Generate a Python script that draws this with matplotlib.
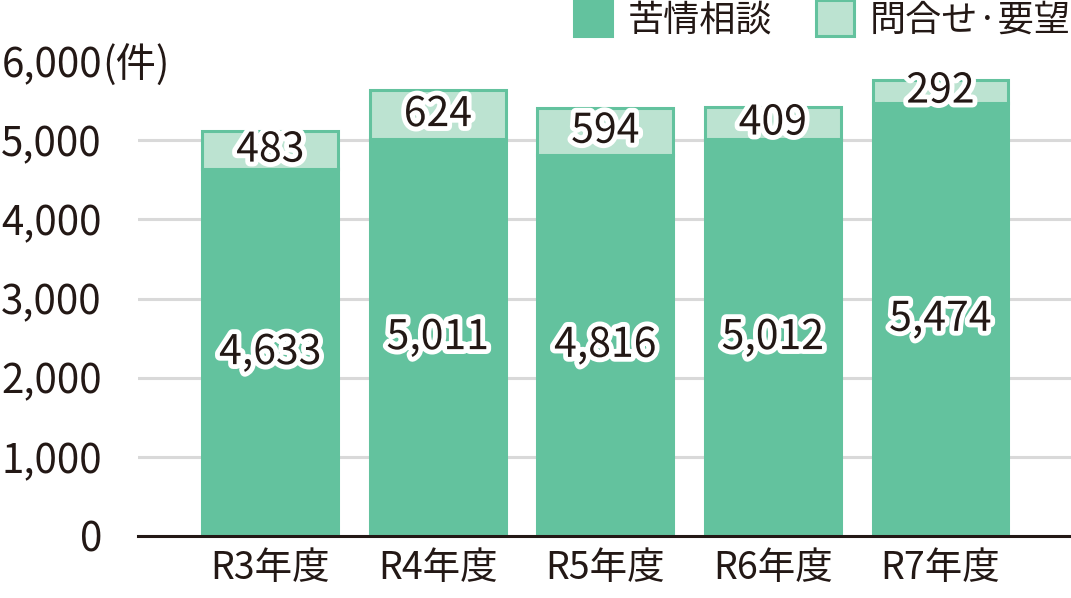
import matplotlib.pyplot as plt
import matplotlib.patheffects as pe
from matplotlib.patches import Patch
import numpy as np

plt.rcParams['font.family'] = ['Noto Sans CJK JP', 'DejaVu Sans']

years = ["R3年度", "R4年度", "R5年度", "R6年度", "R7年度"]
complaints = [4633, 5011, 4816, 5012, 5474]   # 苦情相談
inquiries = [483, 624, 594, 409, 292]         # 問合せ・要望
yticks = [0, 1000, 2000, 3000, 4000, 5000, 6000]

dark = '#63c29e'
light = '#bce3d1'
ink = '#231815'

fig = plt.figure(figsize=(10.71, 5.98), dpi=100)
ax = fig.add_axes([138 / 1071, 62 / 598, 933 / 1071, 475 / 598])

x = np.arange(len(years))
ax.bar(x, complaints, width=0.81, color=dark, edgecolor=dark, linewidth=2.2, zorder=3)
ax.bar(x, inquiries, bottom=complaints, width=0.81, color=light, edgecolor=dark,
       linewidth=2.2, zorder=3)

outline = [pe.withStroke(linewidth=7, foreground='white')]
for i in range(len(years)):
    ax.text(x[i], complaints[i] / 2, f"{complaints[i]:,}", ha='center', va='center',
            fontsize=29.5, color=ink, path_effects=outline, zorder=5)
    ax.text(x[i], complaints[i] + inquiries[i] / 2, f"{inquiries[i]:,}", ha='center',
            va='center', fontsize=29.5, color=ink, path_effects=outline, zorder=5)

ax.set_xlim(-0.79, 4.78)
ax.set_ylim(0, 6000)
ax.set_yticks(yticks)
ax.set_yticklabels([f"{v:,}" for v in yticks])
ax.set_xticks(x)
ax.set_xticklabels(years)
ax.tick_params(axis='y', length=0, pad=26, labelsize=29, labelcolor=ink)
ax.tick_params(axis='x', length=0, pad=9, labelsize=27, labelcolor=ink)

for v in yticks[1:-1]:
    ax.axhline(v, color='#d9d9d9', linewidth=2.2, zorder=1)
for s in ['top', 'right', 'left']:
    ax.spines[s].set_visible(False)
ax.spines['bottom'].set_color(ink)
ax.spines['bottom'].set_linewidth(2.2)
ax.spines['bottom'].set_zorder(4)

ax.text(-36 / 933, 6000, "(件)", transform=ax.get_yaxis_transform(), ha='left',
        va='center_baseline', fontsize=29, color=ink)

handles = [Patch(facecolor=dark, edgecolor=dark, linewidth=2.2, label="苦情相談"),
           Patch(facecolor=light, edgecolor=dark, linewidth=2.2, label="問合せ·要望")]
fig.legend(handles=handles, loc='upper right', bbox_to_anchor=(1.0, 1.0), ncol=2,
           frameon=False, fontsize=26, borderpad=0.0, handlelength=1.05,
           handleheight=1.15, handletextpad=0.45, columnspacing=1.2, labelcolor=ink,
           borderaxespad=0)

fig.savefig("out.png")
